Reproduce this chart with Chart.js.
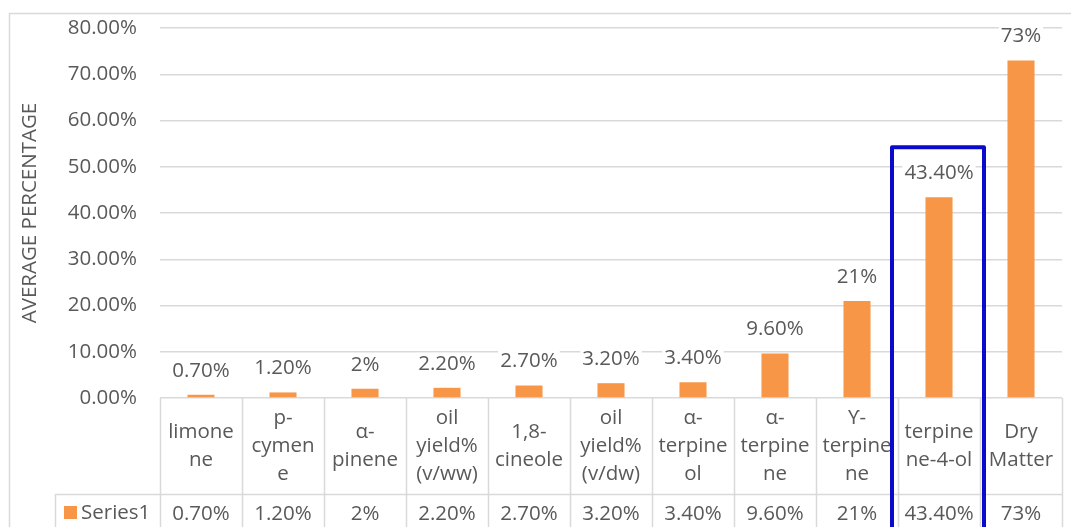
<!DOCTYPE html>
<html>
<head>
<meta charset="utf-8">
<script src="https://cdn.jsdelivr.net/npm/chart.js@4.4.1/dist/chart.umd.min.js"></script>
<style>
  html, body { margin: 0; padding: 0; background: #fff; }
  #wrap { width: 1071px; height: 527px; }
</style>
</head>
<body>
<div id="wrap"><canvas id="chart" width="1071" height="527"></canvas></div>
<script>
// category names, wrapped the same way as in the data table
var categories = [
  ["limone", "ne"],
  ["p-", "cymen", "e"],
  ["α-", "pinene"],
  ["oil", "yield%", "(v/ww)"],
  ["1,8-", "cineole"],
  ["oil", "yield%", "(v/dw)"],
  ["α-", "terpine", "ol"],
  ["α-", "terpine", "ne"],
  ["ϒ-", "terpine", "ne"],
  ["terpine", "ne-4-ol"],
  ["Dry", "Matter"]
];
var seriesValues = [0.7, 1.2, 2, 2.2, 2.7, 3.2, 3.4, 9.6, 21, 43.4, 73];
var valueLabels = ["0.70%", "1.20%", "2%", "2.20%", "2.70%", "3.20%", "3.40%", "9.60%", "21%", "43.40%", "73%"];
var seriesName = "Series1";
var highlightIndex = 9;

var FONT = "'Open Sans', sans-serif";
var TEXT = "#595959";
var LINE = "#d9d9d9";
var BAR = "#F79646";

// outer chart frame (left and top edges only are visible)
var framePlugin = {
  id: "frame",
  beforeDraw: function(chart) {
    var ctx = chart.ctx;
    ctx.save();
    ctx.strokeStyle = LINE;
    ctx.lineWidth = 1.5;
    ctx.beginPath();
    ctx.moveTo(9.5, chart.height + 2);
    ctx.lineTo(9.5, 13.5);
    ctx.lineTo(chart.width + 2, 13.5);
    ctx.stroke();
    ctx.restore();
  }
};

// value labels above the bars
var labelPlugin = {
  id: "valueLabels",
  afterDatasetsDraw: function(chart) {
    var ctx = chart.ctx;
    var meta = chart.getDatasetMeta(0);
    ctx.save();
    ctx.font = "20.5px " + FONT;
    ctx.textAlign = "center";
    ctx.textBaseline = "middle";
    meta.data.forEach(function(bar, i) {
      var txt = valueLabels[i];
      var y = bar.y - 24;
      var w = ctx.measureText(txt).width;
      ctx.fillStyle = "#fff";
      ctx.fillRect(bar.x - w / 2 - 2, y - 11, w + 4, 22);
      ctx.fillStyle = TEXT;
      ctx.fillText(txt, bar.x, y);
    });
    ctx.restore();
  }
};

// data table under the plot
var tablePlugin = {
  id: "dataTable",
  afterDraw: function(chart) {
    var ctx = chart.ctx;
    var area = chart.chartArea;
    var xs = chart.scales.x;
    var n = categories.length;
    var cw = (area.right - area.left) / n;
    var top = area.bottom;
    var rowY = top + 96;
    var bottom = chart.height + 2;

    ctx.save();
    ctx.strokeStyle = LINE;
    ctx.lineWidth = 1.5;
    ctx.beginPath();
    for (var i = 0; i <= n; i++) {
      var bx = Math.round(area.left + i * cw) + 0.5;
      ctx.moveTo(bx, top);
      ctx.lineTo(bx, bottom);
    }
    ctx.moveTo(55.5, rowY + 0.5);
    ctx.lineTo(area.right, rowY + 0.5);
    ctx.moveTo(55.5, rowY);
    ctx.lineTo(55.5, bottom);
    ctx.stroke();

    ctx.font = "20.5px " + FONT;
    ctx.fillStyle = TEXT;
    ctx.textAlign = "center";
    ctx.textBaseline = "middle";
    var midHead = (top + rowY) / 2;
    var lh = 28;
    for (var j = 0; j < n; j++) {
      var cx = xs.getPixelForValue(j);
      var lines = categories[j];
      var y0 = midHead - (lines.length - 1) * lh / 2;
      for (var k = 0; k < lines.length; k++) {
        ctx.fillText(lines[k], cx, y0 + k * lh);
      }
      ctx.fillText(valueLabels[j], cx, rowY + 20);
    }

    // legend key in the first cell
    ctx.fillStyle = BAR;
    ctx.fillRect(64, rowY + 12, 13, 13);
    ctx.fillStyle = TEXT;
    ctx.textAlign = "left";
    ctx.fillText(seriesName, 81, rowY + 19);
    ctx.restore();
  }
};

// blue box drawn round one category
var highlightPlugin = {
  id: "highlight",
  afterDraw: function(chart) {
    var ctx = chart.ctx;
    var area = chart.chartArea;
    var cw = (area.right - area.left) / categories.length;
    var bar = chart.getDatasetMeta(0).data[highlightIndex];
    var cx = chart.scales.x.getPixelForValue(highlightIndex);
    var left = cx - cw / 2 - 6;
    var right = cx + cw / 2 + 4;
    var top = bar.y - 50;
    ctx.save();
    ctx.strokeStyle = "#0A0ACC";
    ctx.lineWidth = 4;
    ctx.lineJoin = "round";
    ctx.beginPath();
    ctx.moveTo(left, chart.height + 10);
    ctx.lineTo(left, top);
    ctx.lineTo(right, top);
    ctx.lineTo(right, chart.height + 10);
    ctx.stroke();
    ctx.restore();
  }
};

var chart = new Chart(document.getElementById("chart"), {
  type: "bar",
  data: {
    labels: categories.map(function(c) { return c.join(""); }),
    datasets: [{
      label: seriesName,
      data: seriesValues,
      backgroundColor: BAR,
      borderWidth: 0,
      categoryPercentage: 0.33,
      barPercentage: 1
    }]
  },
  options: {
    responsive: false,
    animation: false,
    layout: { padding: { left: 10, top: 28, right: 9, bottom: 129 } },
    plugins: {
      legend: { display: false },
      tooltip: { enabled: false }
    },
    scales: {
      x: { display: false },
      y: {
        min: 0,
        max: 80,
        ticks: {
          stepSize: 10,
          padding: 23,
          color: TEXT,
          font: { family: FONT, size: 20.5 },
          callback: function(v) { return v.toFixed(2) + "%"; }
        },
        grid: { color: LINE, lineWidth: 1.5, drawTicks: false },
        border: { display: false },
        title: {
          display: true,
          text: "AVERAGE PERCENTAGE",
          color: TEXT,
          font: { family: FONT, size: 20.5 },
          padding: { top: 8, bottom: 0 }
        },
        afterFit: function(scale) {
          scale.width = 150;
          scale.paddingTop = 0;
          scale.paddingBottom = 0;
        }
      }
    }
  },
  plugins: [framePlugin, labelPlugin, tablePlugin, highlightPlugin]
});
</script>
</body>
</html>
